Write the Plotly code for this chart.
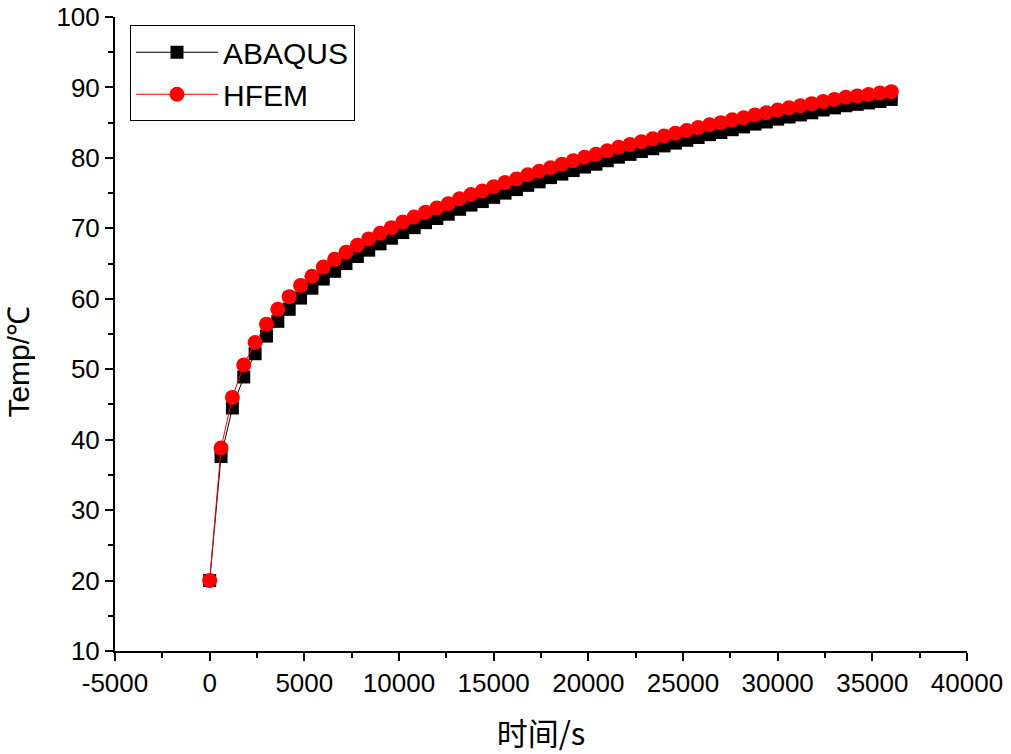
import plotly.graph_objects as go

# time (s)
time_s = [
    0, 600, 1200, 1800, 2400, 3000, 3600, 4200, 4800, 5400,
    6000, 6600, 7200, 7800, 8400, 9000, 9600, 10200, 10800, 11400,
    12000, 12600, 13200, 13800, 14400, 15000, 15600, 16200, 16800, 17400,
    18000, 18600, 19200, 19800, 20400, 21000, 21600, 22200, 22800, 23400,
    24000, 24600, 25200, 25800, 26400, 27000, 27600, 28200, 28800, 29400,
    30000, 30600, 31200, 31800, 32400, 33000, 33600, 34200, 34800, 35400,
    36000,
]

abaqus = [
    20.0, 37.6, 44.5, 48.9, 52.2, 54.7, 56.8, 58.5, 60.1, 61.5,
    62.8, 63.9, 65.0, 66.0, 66.9, 67.8, 68.6, 69.4, 70.1, 70.8,
    71.4, 72.0, 72.7, 73.3, 73.8, 74.4, 75.0, 75.5, 76.1, 76.6,
    77.2, 77.7, 78.2, 78.7, 79.1, 79.6, 80.1, 80.5, 80.9, 81.3,
    81.7, 82.1, 82.5, 82.9, 83.3, 83.6, 84.0, 84.4, 84.8, 85.1,
    85.5, 85.8, 86.1, 86.4, 86.8, 87.1, 87.4, 87.6, 87.8, 88.0,
    88.3,
]

hfem = [
    20.0, 38.8, 46.0, 50.6, 53.8, 56.4, 58.5, 60.3, 61.9, 63.2,
    64.5, 65.6, 66.6, 67.6, 68.5, 69.3, 70.1, 70.9, 71.6, 72.3,
    72.9, 73.5, 74.2, 74.8, 75.3, 75.9, 76.5, 77.0, 77.6, 78.1,
    78.6, 79.1, 79.6, 80.1, 80.5, 81.0, 81.5, 81.9, 82.3, 82.7,
    83.1, 83.5, 83.9, 84.3, 84.7, 85.0, 85.4, 85.7, 86.1, 86.4,
    86.8, 87.1, 87.4, 87.7, 88.0, 88.3, 88.6, 88.8, 89.0, 89.2,
    89.4,
]

x_ticks = [-5000, 0, 5000, 10000, 15000, 20000, 25000, 30000, 35000, 40000]
x_labels = ["-5000", "0", "5000", "10000", "15000", "20000", "25000", "30000", "35000", "40000"]
y_ticks = [10, 20, 30, 40, 50, 60, 70, 80, 90, 100]

FONT = "Liberation Sans, Arial, sans-serif"

fig = go.Figure()
fig.add_trace(go.Scatter(
    x=time_s, y=abaqus, name="ABAQUS", mode="lines+markers",
    line=dict(color="black", width=1),
    marker=dict(symbol="square", size=13, color="black"),
))
fig.add_trace(go.Scatter(
    x=time_s, y=hfem, name="HFEM", mode="lines+markers",
    line=dict(color="red", width=1),
    marker=dict(symbol="circle", size=15, color="red"),
))

axis_common = dict(
    showline=True, linecolor="black", linewidth=2,
    ticks="outside", ticklen=8, tickwidth=2, tickcolor="black",
    showgrid=False, zeroline=False, mirror=False, automargin=False,
    ticklabeloverflow="allow",
    tickfont=dict(family=FONT, size=26, color="black"),
)

fig.update_layout(
    width=1011, height=754,
    margin=dict(l=115, r=44, t=17, b=103),
    paper_bgcolor="white", plot_bgcolor="white",
    font=dict(family=FONT, color="black"),
    showlegend=True,
    legend=dict(
        x=0.0176, y=0.987, xanchor="left", yanchor="top",
        bordercolor="black", borderwidth=1, bgcolor="white",
        font=dict(family=FONT, size=30, color="black"),
        itemwidth=82, tracegroupgap=0,
    ),
    xaxis=dict(
        range=[-5000, 40000], tickvals=x_ticks, ticktext=x_labels,
        minor=dict(dtick=2500, ticks="outside", ticklen=5, tickwidth=2, tickcolor="black"),
        title=dict(text="时间/s", standoff=26,
                   font=dict(family="Noto Sans CJK SC, " + FONT, size=31, color="black")),
        **axis_common,
    ),
    yaxis=dict(
        range=[10, 100], tickvals=y_ticks,
        minor=dict(dtick=5, ticks="outside", ticklen=5, tickwidth=2, tickcolor="black"),
        **axis_common,
    ),
    annotations=[dict(
        text="Temp/℃", textangle=-90, showarrow=False,
        xref="paper", yref="paper", x=-0.113, y=0.456,
        xanchor="center", yanchor="middle",
        font=dict(family=FONT, size=30, color="black"),
    )],
)

# drop the default 8px body margin so the figure fills the window exactly
fig.write_html(
    "out.html",
    config={"displayModeBar": False},
    post_script="document.body.style.margin = '0';",
)
